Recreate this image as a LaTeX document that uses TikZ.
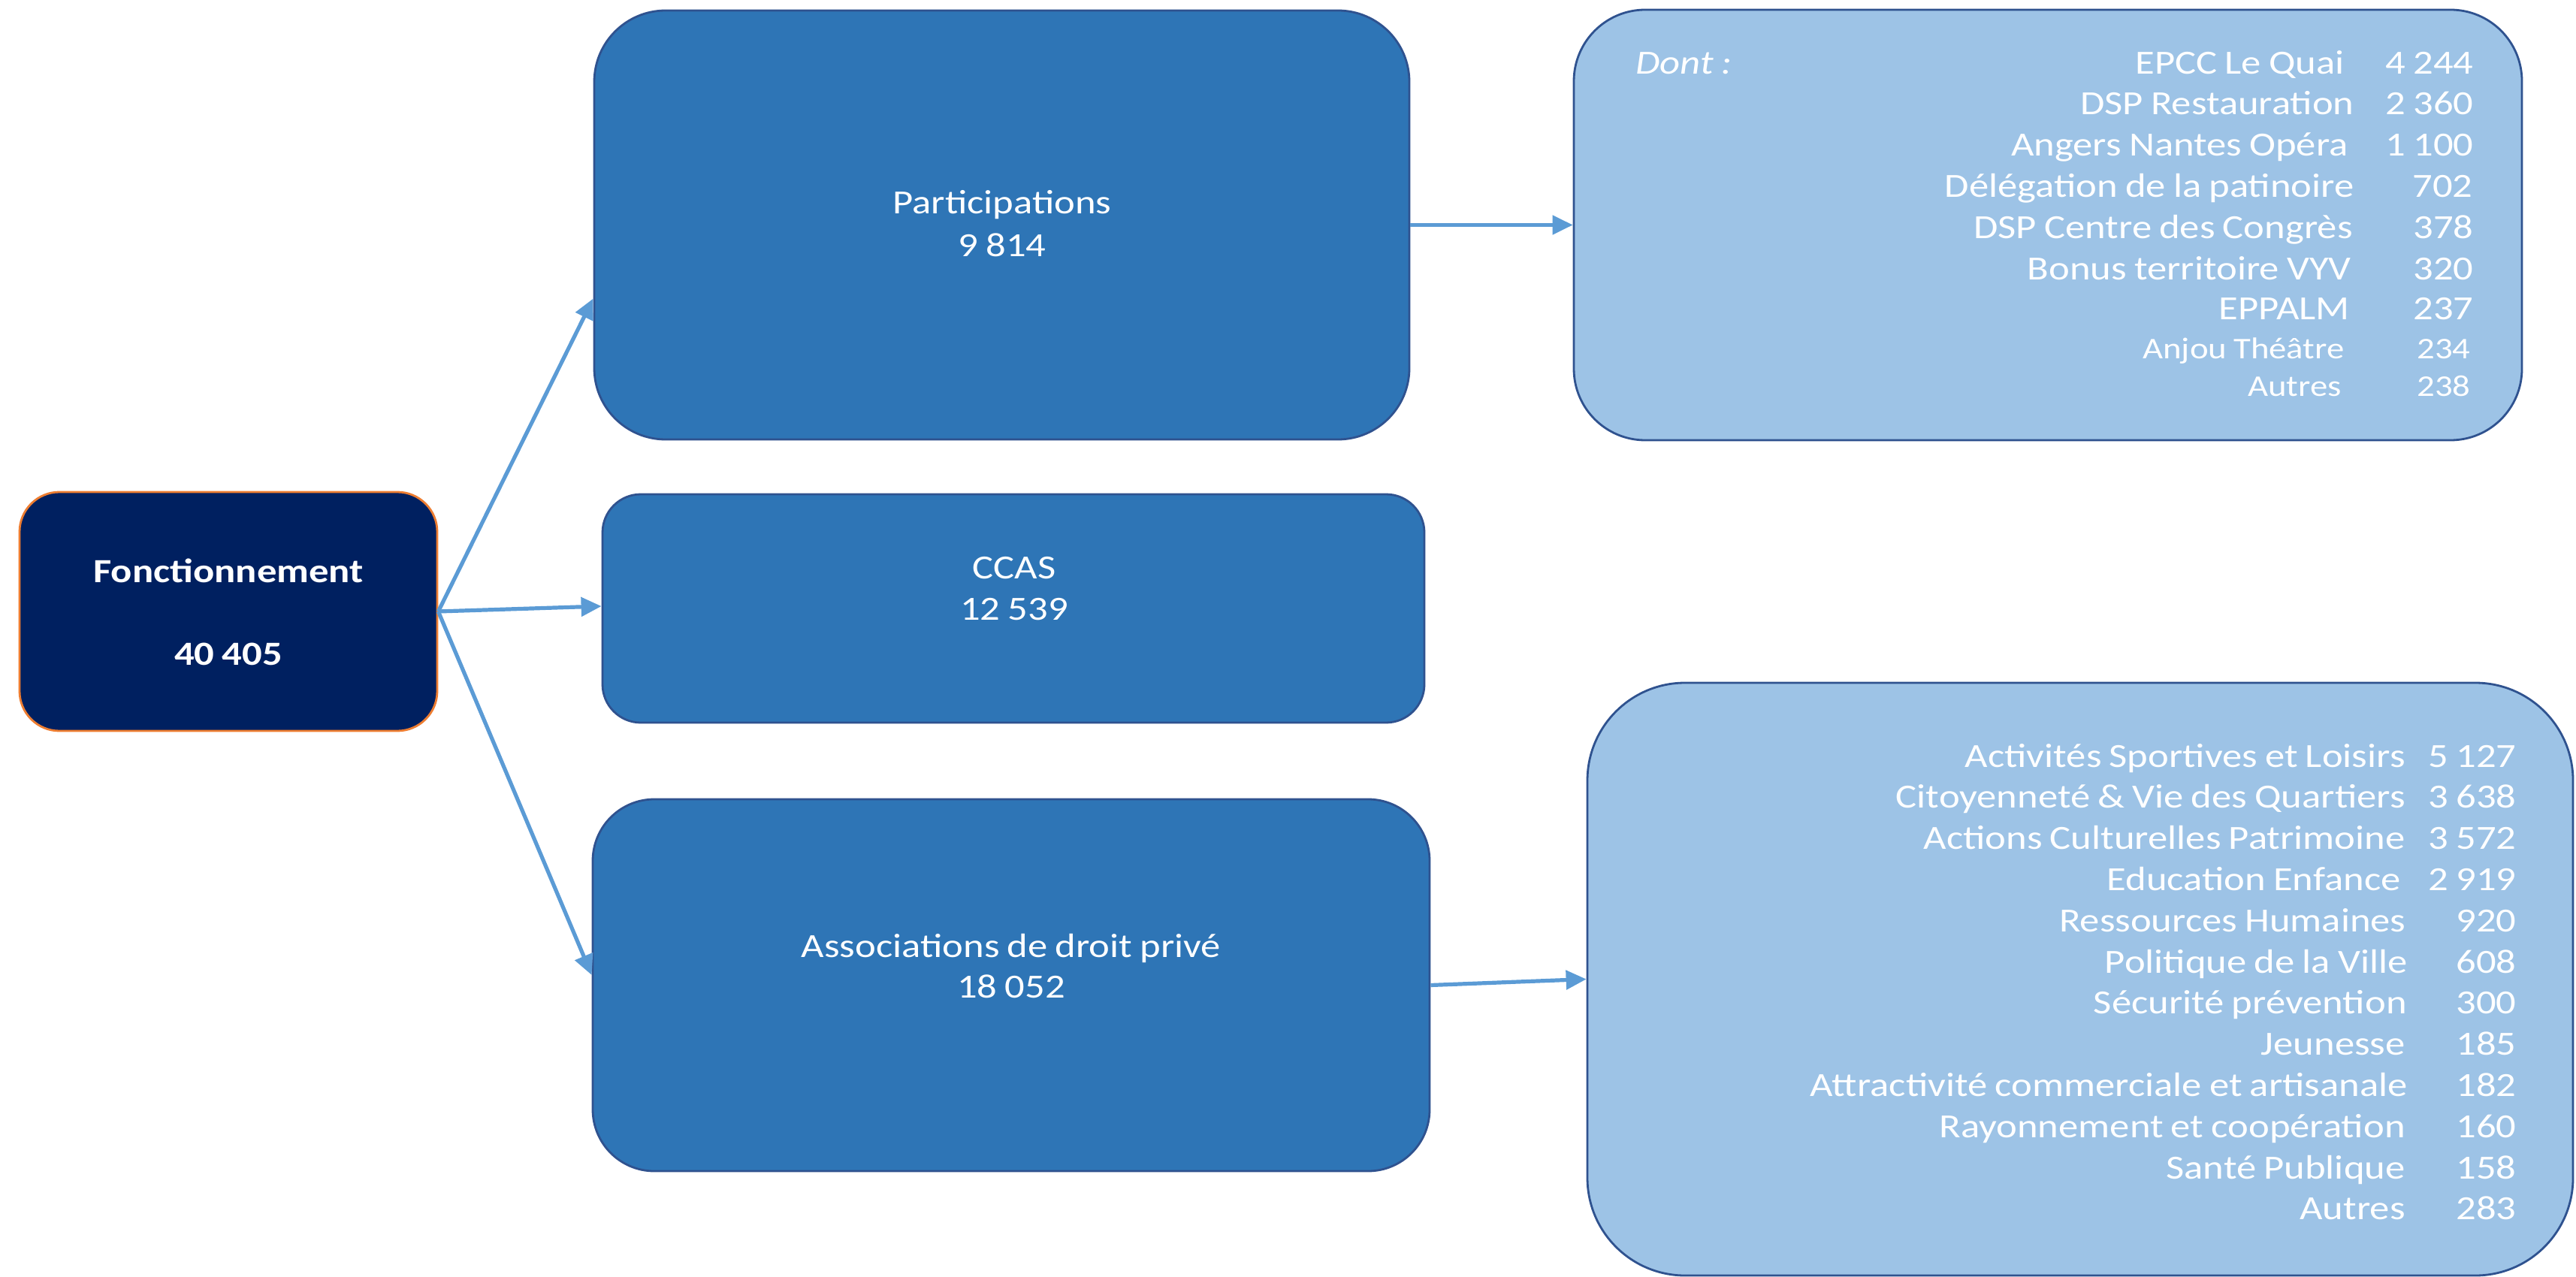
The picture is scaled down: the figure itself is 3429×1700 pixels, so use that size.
\documentclass[tikz,border=0pt]{standalone}
\usepackage{fontspec}
\setmainfont{Carlito}[FakeStretch=1.17, WordSpace=0.85]
\usetikzlibrary{arrows.meta}
\definecolor{navy}{HTML}{002060}
\definecolor{orng}{HTML}{ED7D31}
\definecolor{midblue}{HTML}{2E75B6}
\definecolor{bord}{HTML}{2F528F}
\definecolor{lightblue}{HTML}{9DC3E6}
\definecolor{arrowc}{HTML}{5B9BD5}
\begin{document}
\begin{tikzpicture}[x=0.5pt,y=-0.5pt,
  box/.style={rectangle, inner sep=0pt, line width=1.4pt},
  darkbox/.style={box, draw=orng, fill=navy},
  midbox/.style={box, draw=bord, fill=midblue},
  lightbox/.style={box, draw=bord, fill=lightblue},
  txt/.style={text=white, inner sep=0pt, font=\fontsize{22.5}{27.5}\selectfont},
  smalltxt/.style={text=white, inner sep=0pt, font=\fontsize{20}{24}\selectfont},
  conn/.style={draw=arrowc, line width=2.6pt, -{Triangle[length=13.5pt,width=12.5pt]}}]
\useasboundingbox (0,0) rectangle (3429,1700);
% boxes
\node[darkbox, minimum width=278pt, minimum height=159pt, rounded corners=26.5pt] (F) at (304,814) {};
\node[midbox, minimum width=542.5pt, minimum height=285.5pt, rounded corners=47.5pt] (P) at (1333.5,299.5) {};
\node[midbox, minimum width=547pt, minimum height=152pt, rounded corners=25.5pt] (C) at (1349,810) {};
\node[midbox, minimum width=557pt, minimum height=247.5pt, rounded corners=41pt] (A) at (1346,1311.5) {};
\node[lightbox, minimum width=631pt, minimum height=286.5pt, rounded corners=47.5pt] (TR) at (2726,299.5) {};
\node[lightbox, minimum width=656pt, minimum height=394.5pt, rounded corners=65pt] (BR) at (2769,1303.5) {};
% texts in the main boxes
\node[txt, anchor=base, font=\fontsize{22.5}{27.5}\selectfont\bfseries] (Ft1) at (304,775) {Fonctionnement};
\node[txt, anchor=base, font=\fontsize{22.5}{27.5}\selectfont\bfseries] (Ft2) at (304,885) {40 405};
\node[txt, anchor=base] (Pt1) at (1334,285) {Participations};
\node[txt, anchor=base] (Pt2) at (1334,342) {9 814};
\node[txt, anchor=base] (Ct1) at (1350,770) {CCAS};
\node[txt, anchor=base] (Ct2) at (1350,825) {12 539};
\node[txt, anchor=base] (At1) at (1346,1274) {Associations de droit privé};
\node[txt, anchor=base] (At2) at (1346,1328) {18 052};
% connectors
\draw[conn] (F.east) -- ([yshift=-49pt]P.west);
\draw[conn] (F.east) -- ([yshift=1.5pt]C.west);
\draw[conn] (F.east) -- ([yshift=6.75pt]A.west);
\draw[conn] (P.east) -- (TR.west);
\draw[conn] (A.east) -- (BR.west);
% top right list
\node[txt, anchor=base west, font=\fontsize{22.5}{27.5}\selectfont\itshape] (dont) at (2177,99) {Dont :};
\foreach \lab/\lx/\num/\nx/\yy [count=\i] in {
  EPCC Le Quai/3121/4 244/3293/99,
  DSP Restauration/3134/2 360/3293/153,
  Angers Nantes Opéra/3126/1 100/3293/208,
  Délégation de la patinoire/3134/702/3292/263,
  DSP Centre des Congrès/3132/378/3293/318,
  Bonus territoire VYV/3130/320/3293/373,
  EPPALM/3128/237/3293/426}{
  \node[txt, anchor=base east] (trl\i) at (\lx,\yy) {\lab};
  \node[txt, anchor=base east] (trn\i) at (\nx,\yy) {\num};
}
\node[smalltxt, anchor=base east] (trl8) at (3121,478) {Anjou Théâtre};
\node[smalltxt, anchor=base east] (trn8) at (3289,478) {234};
\node[smalltxt, anchor=base east] (trl9) at (3117,527) {Autres};
\node[smalltxt, anchor=base east] (trn9) at (3289,527) {238};
% bottom right list
\foreach \lab/\lx/\num [count=\i from 0] in {
  Activités Sportives et Loisirs/3202/5 127,
  Citoyenneté \& Vie des Quartiers/3202/3 638,
  Actions Culturelles Patrimoine/3202/3 572,
  Education Enfance/3196/2 919,
  Ressources Humaines/3203/920,
  Politique de la Ville/3205/608,
  Sécurité prévention/3204/300,
  Jeunesse/3202/185,
  Attractivité commerciale et artisanale/3205/182,
  Rayonnement et coopération/3202/160,
  Santé Publique/3202/158,
  Autres/3202/283}{
  \node[txt, anchor=base east] (brl\i) at (\lx,1021+54.8*\i) {\lab};
  \node[txt, anchor=base east] (brn\i) at (3350,1021+54.8*\i) {\num};
}
\end{tikzpicture}
\end{document}
